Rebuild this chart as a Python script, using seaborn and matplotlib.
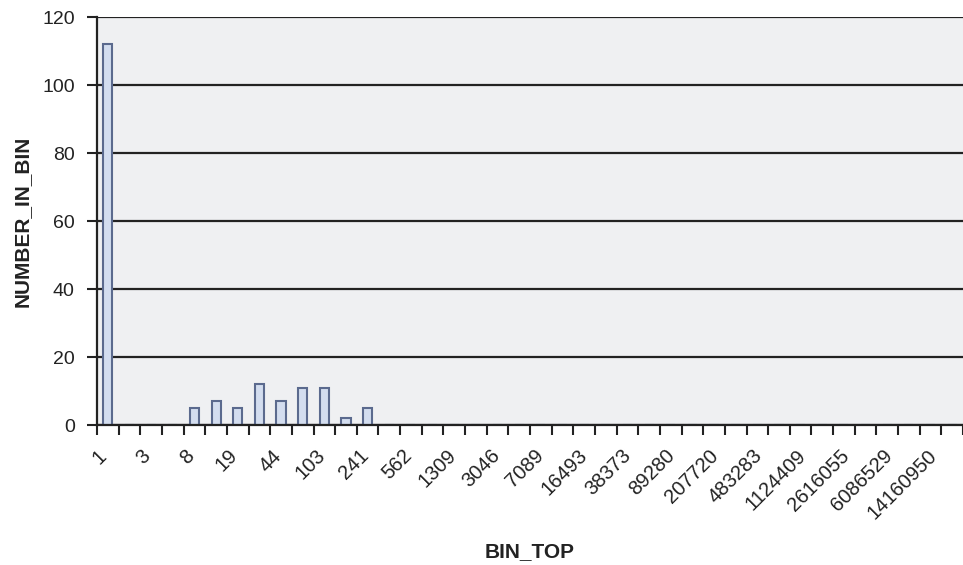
import numpy as np
import pandas as pd
import matplotlib
matplotlib.use("Agg")
import matplotlib.pyplot as plt
import matplotlib.transforms as mtransforms
import seaborn as sns

# bin tops (only every other one is labelled on the axis)
bin_top = ["1", "2", "3", "5", "8", "12", "19", "29", "44", "67",
           "103", "157", "241", "368", "562", "858", "1309", "1997", "3046", "4653",
           "7089", "10813", "16493", "25157", "38373", "58532", "89280", "136180", "207720", "316840",
           "483283", "737160", "1124409", "1715085", "2616055", "3990281", "6086529", "9283780", "14160950", "21600000"]
number_in_bin = [112, 0, 0, 0, 5, 7, 5, 12, 7, 11,
                 11, 2, 5, 0, 0, 0, 0, 0, 0, 0,
                 0, 0, 0, 0, 0, 0, 0, 0, 0, 0,
                 0, 0, 0, 0, 0, 0, 0, 0, 0, 0]
y_ticks = [0, 20, 40, 60, 80, 100, 120]

df = pd.DataFrame({"BIN_TOP": bin_top, "NUMBER_IN_BIN": number_in_bin})

sns.set_style("white")
plt.rcParams['font.family'] = ['Liberation Sans', 'DejaVu Sans']

fig = plt.figure(figsize=(9.63, 5.65), dpi=100)
ax = fig.add_axes([97/963, 140/565, 866/963, 408/565])
ax.set_facecolor("#eff0f2")

sns.barplot(data=df, x="BIN_TOP", y="NUMBER_IN_BIN", order=bin_top,
            color="#d3ddef", edgecolor="#5b6a8e", linewidth=1.5,
            width=0.42, saturation=1, ax=ax, zorder=3)

ax.set_xlim(-0.5, len(bin_top) - 0.5)
ax.set_ylim(0, 120)
ax.set_yticks(y_ticks)
ax.tick_params(axis="y", labelsize=14, length=7, width=1.5, color="#222222",
               pad=9, colors="#222222", left=True)
ax.yaxis.grid(True, color="#222222", linewidth=1.6, zorder=1)
ax.set_axisbelow(True)

# ticks on the category borders, labels on every other category
ax.set_xticks(np.arange(-0.5, len(bin_top)), labels=[])
ax.set_xticks(np.arange(0, len(bin_top), 2), labels=bin_top[::2], minor=True)
ax.tick_params(axis="x", which="major", length=7, width=1.5, color="#222222", bottom=True)
ax.tick_params(axis="x", which="minor", length=0, pad=20, labelsize=14.5, colors="#222222")
for k, lab in enumerate(ax.get_xticklabels(minor=True)):
    # labels drift a little to the right along the axis, like in the original
    dx = (-4 + 0.37 * k) / 100
    lab.set_rotation(45)
    lab.set_rotation_mode("anchor")
    lab.set_ha("right")
    lab.set_va("center")
    lab.set_transform(lab.get_transform() + mtransforms.ScaledTranslation(dx, 0, fig.dpi_scale_trans))

for side in ["top", "right"]:
    ax.spines[side].set_visible(False)
for side in ["left", "bottom"]:
    ax.spines[side].set_color("#222222")
    ax.spines[side].set_linewidth(1.6)
    ax.spines[side].set_zorder(4)

ax.set_xlabel("BIN_TOP", fontsize=15, fontweight="bold", color="#222222")
ax.set_ylabel("NUMBER_IN_BIN", fontsize=15, fontweight="bold", color="#222222")
ax.xaxis.set_label_coords(0.5, -0.311)
ax.xaxis.label.set_va("center")
ax.yaxis.set_label_coords(-0.0866, 0.5)
ax.yaxis.label.set_va("center")

fig.savefig("out.png", dpi=100)
